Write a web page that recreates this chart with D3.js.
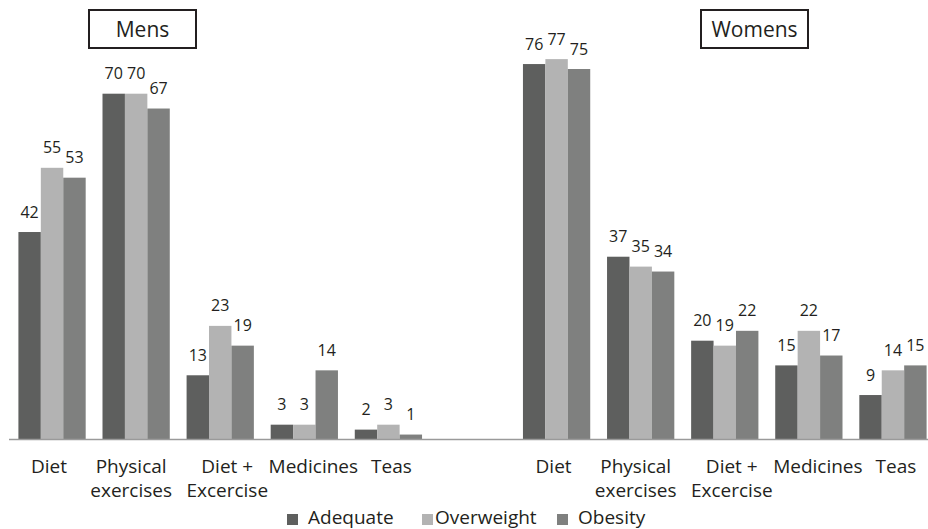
<!DOCTYPE html>
<html>
<head>
<meta charset="utf-8">
<script src="https://cdn.jsdelivr.net/npm/d3@7/dist/d3.min.js"></script>
<style>
  html, body { margin: 0; padding: 0; background: #fff; }
  svg { display: block; }
  text { font-family: "Open Sans", "Noto Sans", sans-serif; fill: #231f20; }
</style>
</head>
<body>
<script>
// Weight-loss methods reported, by sex and weight status
const groups = ["Mens", "Womens"];
const categories = ["Diet", "Physical exercises", "Diet + Excercise", "Medicines", "Teas"];
const categoryLines = [["Diet"], ["Physical", "exercises"], ["Diet +", "Excercise"], ["Medicines"], ["Teas"]];
const series = ["Adequate", "Overweight", "Obesity"];
const mensValues = [
  [42, 55, 53],
  [70, 70, 67],
  [13, 23, 19],
  [3, 3, 14],
  [2, 3, 1]
];
const womensValues = [
  [76, 77, 75],
  [37, 35, 34],
  [20, 19, 22],
  [15, 22, 17],
  [9, 14, 15]
];

const colors = ["#5e5f5e", "#b3b3b3", "#7f807f"];
const labelNudge = [-3, -5, 7, 9, 3];

const width = 928, height = 529;
const baseline = 439.5;

const svg = d3.select("body").append("svg")
  .attr("width", width).attr("height", height);

// slots: five categories per group, with one empty slot between the groups
const slotKeys = [];
const rows = [];
groups.forEach((g, gi) => {
  if (gi > 0) slotKeys.push("gap" + gi);
  const vals = gi === 0 ? mensValues : womensValues;
  categories.forEach((c, ci) => {
    const key = g + "|" + c;
    slotKeys.push(key);
    rows.push({ key, group: g, ci, values: vals[ci] });
  });
});

const x0 = d3.scaleBand().domain(slotKeys).range([10, 935])
  .paddingInner(0.2).paddingOuter(0.1);
const x1 = d3.scaleBand().domain(series).range([0, x0.bandwidth()]);
const y = d3.scaleLinear().domain([0, 80]).range([baseline, 44.3]);

// bars
const slot = svg.append("g").selectAll("g").data(rows).join("g")
  .attr("transform", d => `translate(${x0(d.key)},0)`);

slot.selectAll("rect").data(d => d.values.map((v, i) => ({ s: series[i], v, i })))
  .join("rect")
  .attr("x", d => x1(d.s))
  .attr("y", d => y(d.v))
  .attr("width", x1.bandwidth())
  .attr("height", d => y(0) - y(d.v))
  .attr("fill", d => colors[d.i]);

// value labels
slot.selectAll("text.val").data(d => d.values.map((v, i) => ({ s: series[i], v, i })))
  .join("text").attr("class", "val")
  .attr("x", d => x1(d.s) + x1.bandwidth() / 2)
  .attr("y", d => y(d.v) - 14.5)
  .attr("text-anchor", "middle")
  .attr("font-size", 16)
  .text(d => d.v);

// baseline axis
svg.append("line")
  .attr("x1", 9).attr("x2", width)
  .attr("y1", baseline).attr("y2", baseline)
  .attr("stroke", "#9a9a9a").attr("stroke-width", 1.5);

// category labels
slot.append("text")
  .attr("text-anchor", "middle")
  .attr("font-size", 19)
  .attr("transform", d => `translate(${x0.bandwidth() / 2 + labelNudge[d.ci]},473)`)
  .selectAll("tspan").data(d => categoryLines[d.ci])
  .join("tspan")
  .attr("x", 0)
  .attr("y", (d, i) => i * 24)
  .text(d => d);

// group titles in boxes
const titleCenters = [142.5, 754.5];
groups.forEach((g, gi) => {
  const t = svg.append("g").attr("transform", `translate(${titleCenters[gi]},0)`);
  t.append("rect")
    .attr("x", -53.5).attr("y", 10).attr("width", 107).attr("height", 38)
    .attr("fill", "#fff").attr("stroke", "#231f20").attr("stroke-width", 2);
  t.append("text")
    .attr("x", 0).attr("y", 36.5)
    .attr("text-anchor", "middle")
    .attr("font-size", 21)
    .text(g);
});

// legend
const legendX = [287, 422, 557];
const legend = svg.append("g").selectAll("g").data(series).join("g")
  .attr("transform", (d, i) => `translate(${legendX[i]},514)`);
legend.append("rect")
  .attr("width", 11).attr("height", 11)
  .attr("fill", (d, i) => colors[i]);
legend.append("text")
  .attr("x", (d, i) => i === 1 ? 13 : 21)
  .attr("y", 9.5)
  .attr("font-size", 19)
  .text(d => d);
</script>
</body>
</html>
